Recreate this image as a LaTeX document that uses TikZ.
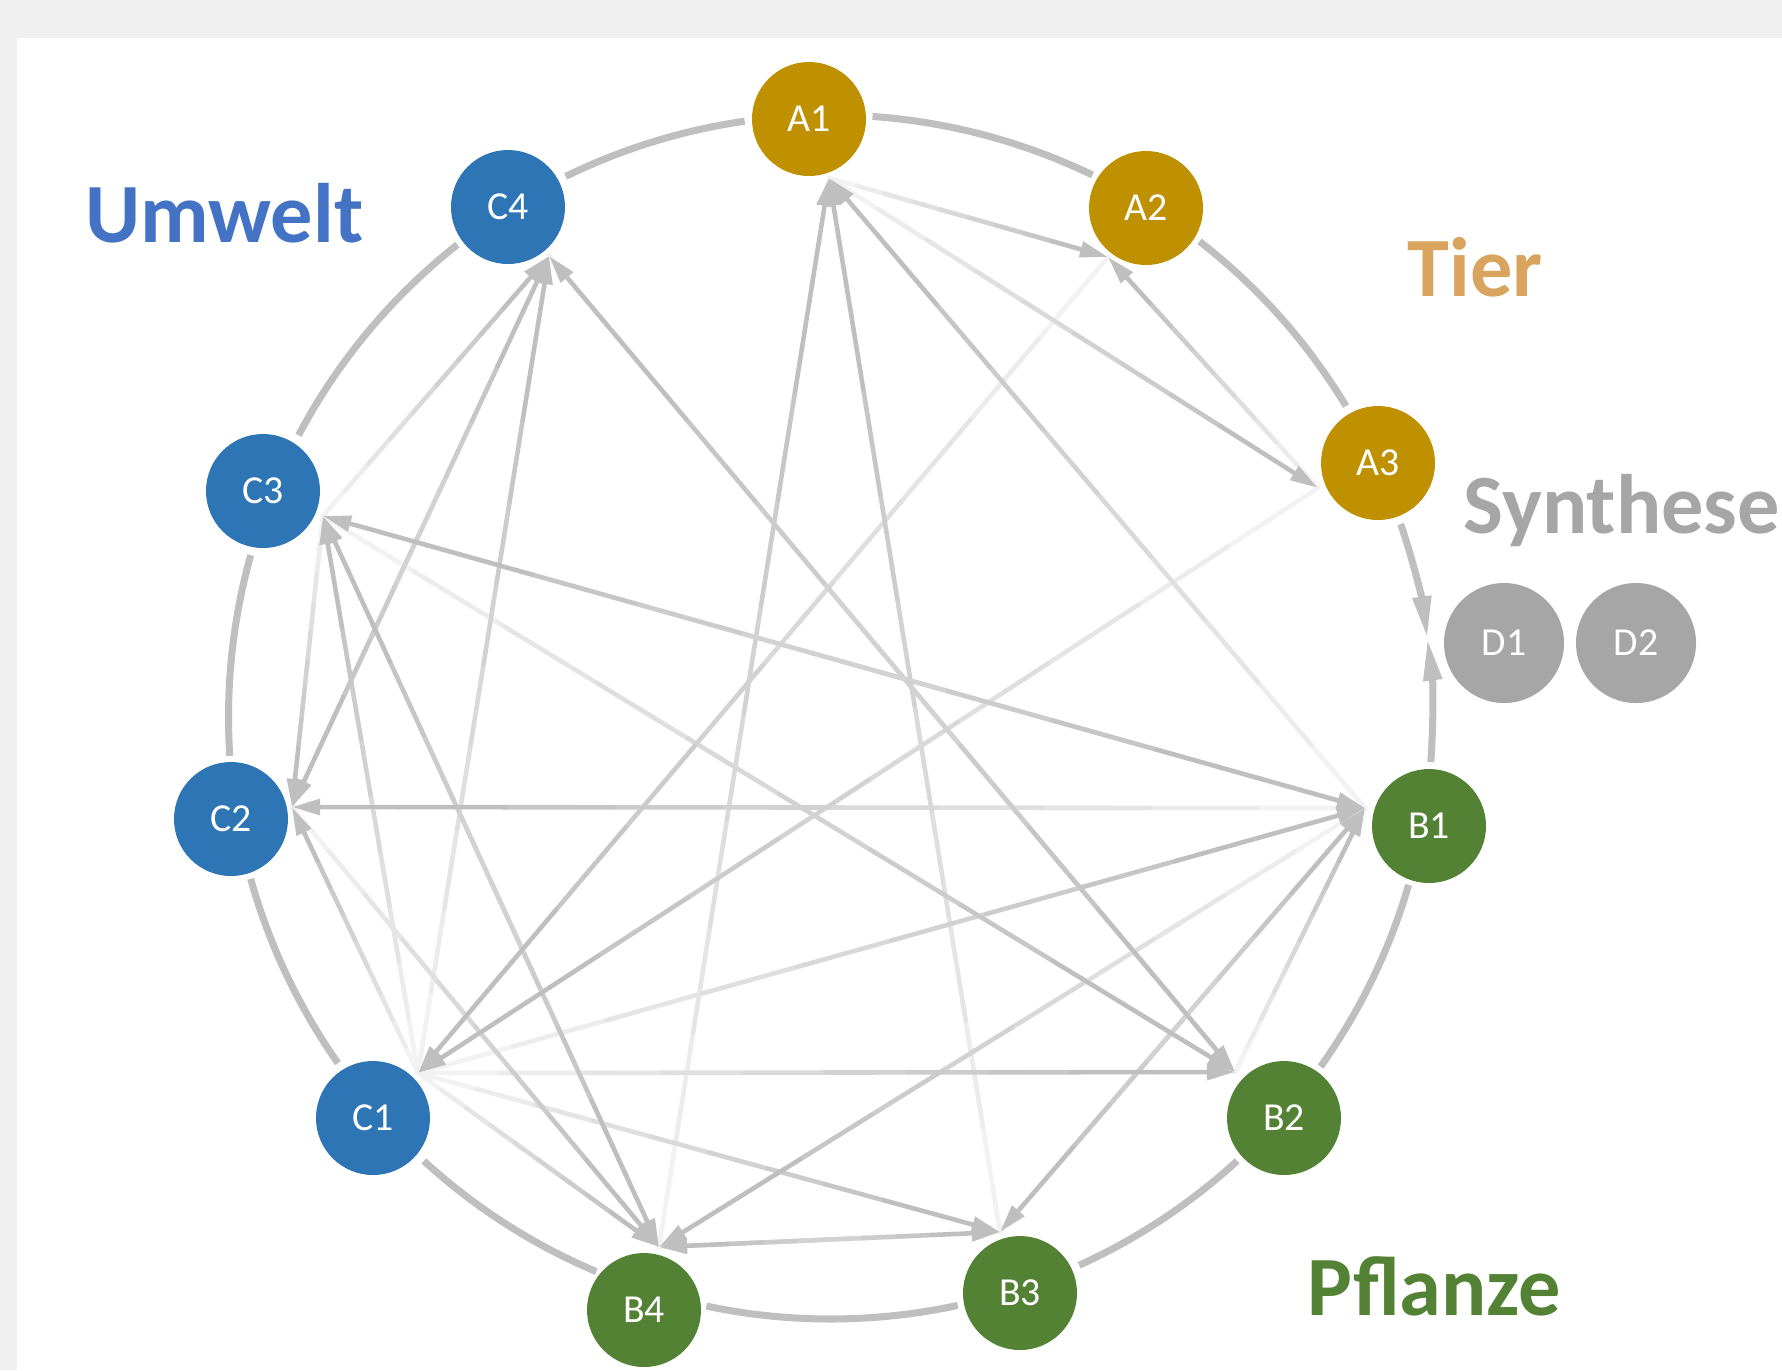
\documentclass[tikz,border=0pt]{standalone}
\usepackage{fontspec}
\setmainfont{Carlito}
\usetikzlibrary{arrows.meta,calc}

\definecolor{tiergold}{RGB}{191,144,0}
\definecolor{pflgreen}{RGB}{84,130,53}
\definecolor{umblue}{RGB}{46,117,182}
\definecolor{umtext}{RGB}{68,114,196}
\definecolor{tiertext}{RGB}{216,164,94}
\definecolor{syngray}{RGB}{166,166,166}
\definecolor{bggray}{RGB}{240,240,240}
\definecolor{ringgray}{RGB}{191,191,191}

% gradient connector: light at the source, darker at the target
\newcommand{\flow}[2]{%
  \foreach \k [evaluate=\k as \c using int(10+5*\k)] in {0,...,8}
    \draw[link,gray!\c] ($(#1)!{\k/10}!(#2)$) -- ($(#1)!{(\k+1)/10}!(#2)$);
  \draw[link,gray!50,->] ($(#1)!0.9!(#2)$) -- (#2);
}

\begin{document}
\begin{tikzpicture}[>={Triangle[length=8pt,width=4.4pt]},thin]
                \tikzset{topic/.style={circle, minimum size=1.14cm, inner sep=0pt, text=white, font=\fontsize{11.3}{13}\selectfont},
                         ring/.style={ringgray, line width=2pt},
                         link/.style={line width=1.3pt, line cap=round},
                         group/.style={anchor=base west, inner sep=0pt, font=\bfseries\fontsize{24}{28}\selectfont}}
                \def\R{6.02}
                \useasboundingbox (-8.305,-6.53) rectangle (9.515,7.17);
                \fill[bggray] (-8.305,-6.53) rectangle (9.515,7.17);
                \fill[white] (-8.135,-6.53) rectangle (9.515,6.793);
                % ring
                \foreach \s/\e in {86/64.2, 52.2/31.1, -16.2/-35.5, -47.5/-65.6, -77.8/-101.9,
                                   -112.9/-132.5, -144.9/-164.4, 183.7/164.4, 152.1/128.3, 116.1/98.2}
                    \draw[ring] (\s:\R) arc[start angle=\s, end angle=\e, radius=\R];
                \coordinate (syn) at (7.5:\R);
                \draw[ring,-{Triangle[length=12pt,width=5pt]}] (18.7:\R) arc[start angle=18.7, end angle=7.5, radius=\R];
                \draw[ring,-{Triangle[length=12pt,width=5pt]}] (-4.3:\R) arc[start angle=-4.3, end angle=7.5, radius=\R];
                % docking points
                \coordinate (a1) at (-0.015,5.39);
                \coordinate (a2) at (2.775,4.60);
                \coordinate (a3) at (4.875,2.29);
                \coordinate (b1) at (5.345,-0.91);
                \coordinate (b2) at (4.045,-3.55);
                \coordinate (b3) at (1.695,-5.15);
                \coordinate (b4) at (-1.715,-5.30);
                \coordinate (c1) at (-4.125,-3.56);
                \coordinate (c2) at (-5.385,-0.90);
                \coordinate (c3) at (-5.075,2.01);
                \coordinate (c4) at (-2.815,4.61);
                \begin{scope}[blend mode=darken]
                \foreach \u/\v in {a1/a2, a1/a3, a3/a2, a2/c1, a3/c1, b4/a1, b3/a1, b1/a1,
                                   c3/c4, c2/c4, c4/c2, c1/c4, b2/c4, c4/b2, c3/c2, c1/c2, b1/c2,
                                   c1/c3, b4/c3, c3/b4, b1/c3, c3/b1, c3/b2, c1/b1, c1/b2, c1/b3,
                                   c1/b4, c2/b4, b1/b4, b3/b1, b1/b3, b2/b1, b4/b3, b3/b4}
                    \flow{\u}{\v};
                \end{scope}
                % nodes
                \node[topic, fill=tiergold] (A1) at (-0.215,5.98) {A1};
                \node[topic, fill=tiergold] (A2) at (3.155,5.09) {A2};
                \node[topic, fill=tiergold] (A3) at (5.475,2.54) {A3};
                \node[topic, fill=pflgreen] (B1) at (5.985,-1.09) {B1};
                \node[topic, fill=pflgreen] (B2) at (4.535,-4.01) {B2};
                \node[topic, fill=pflgreen] (B3) at (1.895,-5.76) {B3};
                \node[topic, fill=pflgreen] (B4) at (-1.865,-5.93) {B4};
                \node[topic, fill=umblue] (C1) at (-4.575,-4.01) {C1};
                \node[topic, fill=umblue] (C2) at (-5.995,-1.02) {C2};
                \node[topic, fill=umblue] (C3) at (-5.675,2.26) {C3};
                \node[topic, fill=umblue] (C4) at (-3.225,5.10) {C4};
                \node[topic, fill=syngray, minimum size=1.2cm] (D1) at (6.735,0.74) {D1};
                \node[topic, fill=syngray, minimum size=1.2cm] (D2) at (8.055,0.74) {D2};
                % group labels
                \node[group, text=umtext] (umwelt) at (-7.455,4.75) {Umwelt};
                \node[group, text=tiertext] (tier) at (5.765,4.21) {Tier};
                \node[group, text=syngray] (synthese) at (6.325,1.84) {Synthese};
                \node[group, text=pflgreen] (pflanze) at (4.765,-5.98) {Pflanze};
            \end{tikzpicture}
\end{document}
